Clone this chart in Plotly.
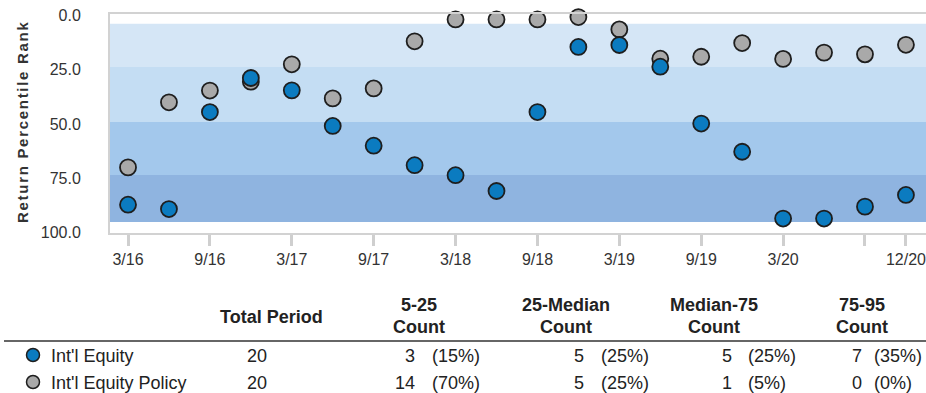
import plotly.graph_objects as go

# Quarter-end dates and return percentile ranks (lower rank = better)
quarters = ["3/16", "6/16", "9/16", "12/16", "3/17", "6/17", "9/17", "12/17",
            "3/18", "6/18", "9/18", "12/18", "3/19", "6/19", "9/19", "12/19",
            "3/20", "6/20", "9/20", "12/20"]
intl_equity = [87.2, 89.2, 44.5, 28.8, 34.5, 50.9, 60.0, 69.0,
               73.6, 80.9, 44.5, 14.5, 13.6, 23.6, 49.8, 62.8,
               93.6, 93.6, 88.1, 82.7]
intl_equity_policy = [70.0, 40.0, 34.6, 30.5, 22.5, 38.2, 33.6, 11.9,
                      1.8, 1.8, 1.8, 0.7, 6.4, 19.9, 19.0, 12.7,
                      20.0, 17.1, 17.9, 13.5]
series_names = ["Int'l Equity", "Int'l Equity Policy"]

# Peer-universe percentile bands (top to bottom)
band_edges = [3.8, 23.7, 49.1, 73.5, 95.2]
band_colors = ["#D5E6F6", "#C4DDF3", "#A3C8EC", "#8FB4E0"]

# Axis ticks
x_tickvals = ["3/16", "9/16", "3/17", "9/17", "3/18", "9/18", "3/19", "9/19", "3/20", "9/20", "12/20"]
x_ticktext = ["3/16", "9/16", "3/17", "9/17", "3/18", "9/18", "3/19", "9/19", "3/20", "", "12/20"]
y_labelvals = [0, 25, 50, 75, 100]
y_tickmarks = [25, 50, 75]

# Table columns
col_headers = [("Total Period", None), ("5-25", "Count"), ("25-Median", "Count"),
               ("Median-75", "Count"), ("75-95", "Count")]

BLUE = "#0B7BC0"
GREY = "#A9A9A9"
OUTLINE = "#1E1E1E"
FONT = "Liberation Sans, Arial, sans-serif"

W, H = 926, 393
L, R, T, B = 110, 0, 14, 393 - 233
PW, PH = W - L - R, H - T - B


def px(x):
    return (x - L) / PW


def py(y):
    return (H - B - y) / PH


def bucket_counts(vals):
    c = [0, 0, 0, 0]
    for v in vals:
        if v <= 25:
            c[0] += 1
        elif v <= 50:
            c[1] += 1
        elif v <= 75:
            c[2] += 1
        else:
            c[3] += 1
    return c


fig = go.Figure()

fig.add_trace(go.Scatter(
    x=quarters, y=intl_equity_policy, mode="markers", name=series_names[1],
    marker=dict(size=16, color=GREY, line=dict(color=OUTLINE, width=1.8)),
    showlegend=False, cliponaxis=False))
fig.add_trace(go.Scatter(
    x=quarters, y=intl_equity, mode="markers", name=series_names[0],
    marker=dict(size=16, color=BLUE, line=dict(color=OUTLINE, width=1.8)),
    showlegend=False, cliponaxis=False))

shapes = []
for i, col in enumerate(band_colors):
    shapes.append(dict(type="rect", xref="paper", yref="y", x0=0, x1=1,
                       y0=band_edges[i], y1=band_edges[i + 1],
                       fillcolor=col, line=dict(width=0), layer="below"))

# table rule under the header
shapes.append(dict(type="line", xref="paper", yref="paper",
                   x0=px(4), x1=px(926), y0=py(341), y1=py(341),
                   line=dict(color="#333333", width=1.5)))

# legend dots in the table
row_y = [355, 382]
for yy, col in zip(row_y, [BLUE, GREY]):
    r = 6.5
    shapes.append(dict(type="circle", xref="paper", yref="paper",
                       x0=px(33 - r), x1=px(33 + r), y0=py(yy + r), y1=py(yy - r),
                       fillcolor=col, line=dict(color=OUTLINE, width=1.5)))

annotations = []
tfont = dict(family=FONT, size=18, color="#222222")
hfont = dict(family=FONT, size=18, color="#222222", weight="bold")

# y-axis title
annotations.append(dict(
    text='<span style="letter-spacing:1.7px">Return Percentile Rank</span>',
    xref="paper", yref="paper", x=px(22), y=py(122), textangle=-90,
    showarrow=False, xanchor="center", yanchor="middle",
    font=dict(family=FONT, size=15, color="#333333", weight="bold")))

# header
header_x = [271, 419, 566, 714, 862]
for (l1, l2), hx in zip(col_headers, header_x):
    if l2 is None:
        annotations.append(dict(text=l1, xref="paper", yref="paper", x=px(hx), y=py(317),
                                showarrow=False, xanchor="center", yanchor="middle", font=hfont))
    else:
        annotations.append(dict(text=l1, xref="paper", yref="paper", x=px(hx), y=py(305),
                                showarrow=False, xanchor="center", yanchor="middle", font=hfont))
        annotations.append(dict(text=l2, xref="paper", yref="paper", x=px(hx), y=py(327),
                                showarrow=False, xanchor="center", yanchor="middle", font=hfont))

num_right = [417, 586, 734, 864]
pct_left = [430, 599, 746, 872]
for name, vals, yy in zip(series_names, [intl_equity, intl_equity_policy], row_y):
    annotations.append(dict(text=name, xref="paper", yref="paper", x=px(49), y=py(yy + 1),
                            showarrow=False, xanchor="left", yanchor="middle", font=tfont))
    annotations.append(dict(text=str(len(vals)), xref="paper", yref="paper", x=px(257), y=py(yy + 1),
                            showarrow=False, xanchor="center", yanchor="middle", font=tfont))
    counts = bucket_counts(vals)
    for c, nr, pl in zip(counts, num_right, pct_left):
        pct = round(100 * c / len(vals))
        annotations.append(dict(text=str(c), xref="paper", yref="paper", x=px(nr), y=py(yy + 1),
                                showarrow=False, xanchor="right", yanchor="middle", font=tfont))
        annotations.append(dict(text=f"({pct}%)", xref="paper", yref="paper", x=px(pl), y=py(yy + 1),
                                showarrow=False, xanchor="left", yanchor="middle", font=tfont))

yr = [100.25, -0.7]
fig.update_layout(
    width=W, height=H,
    margin=dict(l=L, r=R, t=T, b=B, pad=0),
    paper_bgcolor="white", plot_bgcolor="white",
    font=dict(family=FONT, size=15, color="#333333"),
    shapes=shapes, annotations=annotations,
    xaxis=dict(type="category", range=[-0.44, 19.49], categoryorder="array",
               categoryarray=quarters,
               tickvals=x_tickvals, ticktext=x_ticktext,
               ticks="outside", ticklen=11, tickwidth=3, tickcolor="#CFCFCF",
               showline=True, linecolor="#D2D2D2", linewidth=2, mirror=True,
               showgrid=False, zeroline=False, ticklabelstandoff=0,
               tickfont=dict(family=FONT, size=16, color="#333333")),
    yaxis=dict(range=yr, tickvals=y_labelvals, ticktext=[f"{v:.1f}" for v in y_labelvals],
               ticks="", showline=True, linecolor="#D2D2D2", linewidth=2,
               showgrid=False, zeroline=False, ticklabelstandoff=24,
               tickfont=dict(family=FONT, size=16, color="#333333")),
    yaxis2=dict(range=yr, overlaying="y", side="left", tickvals=y_tickmarks,
                showticklabels=False, ticks="outside", ticklen=11, tickwidth=3,
                tickcolor="#CFCFCF", showgrid=False, zeroline=False, showline=False),
)

fig.write_html("out.html")
